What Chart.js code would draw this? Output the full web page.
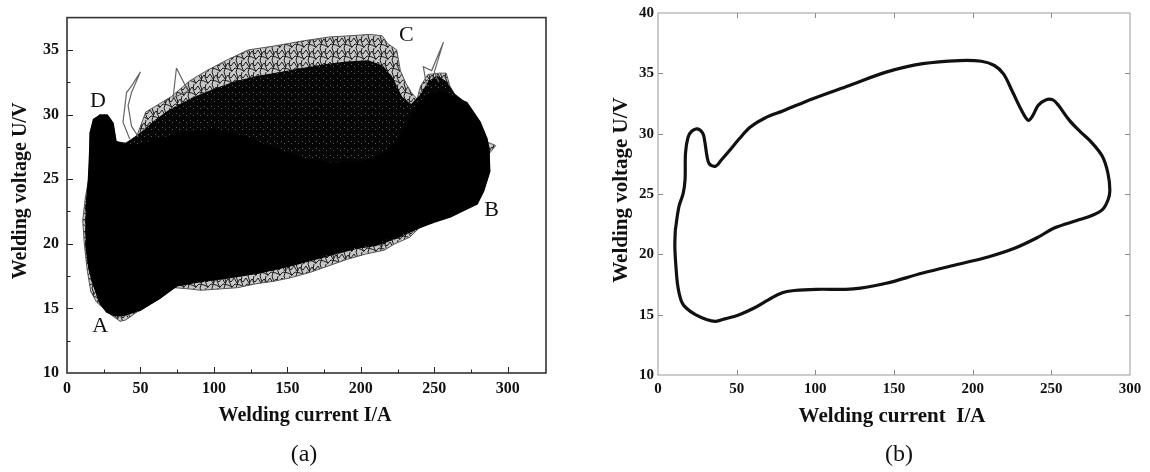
<!DOCTYPE html>
<html>
<head>
<meta charset="utf-8">
<script src="https://cdn.jsdelivr.net/npm/chart.js@4.4.1/dist/chart.umd.min.js"></script>
<style>
  html, body { margin: 0; padding: 0; background: #fff; }
  #wrap { position: relative; width: 1150px; height: 472px; overflow: hidden; }
  canvas { position: absolute; top: 0; }
  #chartA { left: 0; }
  #chartB { left: 575px; }
</style>
</head>
<body>
<div id="wrap">
  <canvas id="chartA" width="575" height="472"></canvas>
  <canvas id="chartB" width="575" height="472"></canvas>
</div>
<script>
// ---- panel (a): envelopes of the U-I cycle cloud, [current A, voltage V] ----
const outerCloud = [[36.2,14.0],[28.7,14.6],[20,15.5],[16.2,16.3],[13.7,18.0],[11.7,20.1],[10.7,21.8],[12.5,23.6],[15,25.1],[16.2,27.1],[15.7,28.6],[18.2,29.6],[22.4,30.0],[27.4,30.0],[31.2,29.4],[33.2,27.9],[39.9,27.8],[47.4,28.3],[53.6,30.2],[61.1,30.7],[71.1,31.4],[83.5,32.6],[93.5,33.3],[108.5,34.2],[123.4,35.0],[140.9,35.3],[160.8,35.7],[178.3,36.0],[193.3,36.1],[205.7,36.2],[214.5,36.1],[218.2,35.5],[224.4,35.0],[226.9,33.4],[230.7,32.4],[234.4,31.7],[238.2,31.2],[240.6,32.2],[245.6,33.1],[253.1,33.2],[258.1,33.2],[260.6,32.2],[265.6,31.2],[273,30.4],[280.5,29.1],[285.5,27.9],[291.8,27.6],[286.8,26.9],[285.5,25.6],[283,24.6],[279.3,23.6],[275.6,23.1],[268.1,22.7],[260.6,22.6],[253.1,22.4],[243.1,21.6],[233.2,20.5],[223.2,20.0],[215.7,19.5],[203.2,19.2],[190.8,18.8],[178.3,18.3],[165.8,17.8],[153.4,17.4],[140.9,17.1],[128.4,16.9],[116,16.6],[103.5,16.5],[91,16.4],[83.5,16.5],[73.6,16.6],[66.1,16.3],[58.6,15.6],[51.1,15.0],[43.6,14.4],[39.9,14.1],[36.2,14.0]];
const meshCloud = [[16,28.6],[18.2,29.6],[22.4,29.9],[27.4,29.9],[31.2,29.3],[33.2,27.9],[40,27.8],[50,28.6],[60,29.6],[70,30.4],[85,31.3],[100,32.0],[115,32.6],[130,33.0],[145,33.3],[160,33.6],[175,33.9],[190,34.1],[205,34.2],[215,33.8],[222,32.8],[228,31.4],[234,30.8],[240,31.5],[246,32.6],[252,33.0],[258,32.6],[264,31.6],[272,30.9],[281,29.4],[285.7,28.1],[287.5,27.1],[288,25.6],[284,24.2],[279,23.1],[270,22.6],[261,22.1],[250,21.7],[238,21.1],[225,20.4],[210,19.8],[197,19.6],[177,19.0],[154,18.3],[131,17.7],[109,17.3],[90,17.0],[75,16.7],[63,15.7],[50,14.8],[38,14.4],[32,14.4],[27,14.7],[22,15.4],[17.7,16.9],[15,18],[13,19.5],[12.5,21.3],[13,23],[14.5,25],[15.5,27],[16,28.6]];
const coreCloud = [[16,28.6],[18.2,29.6],[22.4,29.9],[27.4,29.9],[31.2,29.3],[33.2,27.9],[40,27.6],[50,27.6],[60,28.0],[80,28.6],[100,28.8],[120,28.3],[140,27.4],[160,26.6],[180,26.2],[200,26.3],[215,26.9],[225,27.9],[231,29.3],[238,30.6],[247,31.6],[255,31.7],[262,31.4],[272,30.9],[281,29.4],[285.7,28.1],[287,27.1],[287.5,25.6],[283.4,24.1],[279,23.1],[270,22.6],[261,22.1],[250,21.7],[238,21.2],[225,20.7],[210,20.1],[197,19.8],[177,19.2],[154,18.4],[131,17.8],[109,17.4],[90,17.15],[74.5,16.8],[63,15.8],[49.5,14.9],[38,14.5],[32,14.5],[27,14.75],[22.3,15.5],[17.7,17],[15.3,18],[13.5,19.5],[13.2,21.3],[13.6,23],[14.8,25],[15.6,27],[16,28.6]];
const strayLoopA = [[42.7,28.1],[38.1,29.4],[40.5,31.7],[43.9,32.2],[50,33.3],[43.9,31.7],[41.6,30.7],[43.9,29.1],[48.4,28.3]];
const strayLoopB = [[74.5,33.6],[72.2,31.3],[82.4,31.8],[74.5,33.6]];
const strayLoopC = [[244.8,32.2],[242.5,33.7],[248.2,33.4],[256.2,35.6],[250,33.3],[253,32.5]];
const markNames = ['A', 'B', 'C', 'D'];
const markI = [22.6, 289.0, 231.0, 21.0];
const markU = [13.6, 22.6, 36.1, 31.0];

const ticksA_I = [0, 50, 100, 150, 200, 250, 300];
const minorA_I = [25, 75, 125, 175, 225, 275];
const ticksA_U = [10, 15, 20, 25, 30, 35];
const minorA_U = [12.5, 17.5, 22.5, 27.5, 32.5];

// ---- panel (b): fitted typical U-I loop ----
const loopB = [[11,22.0],[13.3,23.95],[16,25.05],[17.2,26.2],[17.5,28.4],[19.1,29.7],[21.4,30.2],[25,30.4],[28.4,30.05],[29.6,29.45],[31.2,28.1],[32.6,27.5],[36.6,27.3],[40.1,27.8],[44.8,28.5],[51.8,29.6],[58.7,30.55],[68,31.3],[79.7,31.9],[98.4,32.9],[121.7,34.0],[145,35.1],[168.3,35.8],[191.6,36.06],[205.6,36.0],[213.8,35.65],[219.6,34.95],[225.4,33.45],[231.2,31.9],[235.4,31.1],[238.2,31.5],[241.7,32.35],[246.4,32.8],[251,32.8],[254.5,32.35],[261.5,31.1],[268.5,30.15],[275.4,29.3],[282.5,28.1],[286,26.7],[287.2,25.3],[286,24.5],[282.5,23.7],[275.4,23.2],[266.2,22.8],[252.2,22.2],[240.6,21.35],[226.6,20.5],[210.3,19.8],[191.6,19.2],[168.3,18.45],[145,17.6],[128.7,17.2],[119.3,17.1],[100.7,17.1],[86.7,17.0],[78.6,16.8],[70.4,16.25],[61.1,15.55],[51.7,15.0],[42.4,14.65],[36.6,14.45],[30.8,14.6],[23.8,15.0],[17.9,15.55],[14.9,16.1],[12.6,17.35],[11.4,19.0],[10.7,20.65],[11,22.0]];
const ticksB_I = [0, 50, 100, 150, 200, 250, 300];
const ticksB_U = [10, 15, 20, 25, 30, 35, 40];

const serif = '"Liberation Serif", "Times New Roman", serif';
const pts = arr => arr.map(p => ({x: p[0], y: p[1]}));

// small tiles that give the cloud its tangled-wire texture
function tile(size, bg, ink, width, strokes) {
  const c = document.createElement('canvas');
  c.width = size; c.height = size;
  const g = c.getContext('2d');
  if (bg) { g.fillStyle = bg; g.fillRect(0, 0, size, size); }
  g.strokeStyle = ink; g.lineWidth = width;
  strokes.forEach(s => {
    g.beginPath();
    s.forEach((p, i) => i ? g.lineTo(p[0], p[1]) : g.moveTo(p[0], p[1]));
    g.stroke();
  });
  return g.createPattern(c, 'repeat');
}
const sparseWires = tile(12, 'rgba(0,0,0,0.22)', '#1c1c1c', 1,
  [[[0,3],[3,6],[6,2],[9,7],[12,3]], [[0,9],[4,11],[7,8],[12,9]], [[2,0],[1,5],[4,12]], [[8,0],[10,6],[8,12]]]);
const denseWires = tile(7, '#060606', 'rgba(255,255,255,0.35)', 1,
  [[[1,1],[2,2]], [[4,4],[5,3]]]);

// frame, inward ticks, titles and captions
const framePlugin = {
  id: 'frame',
  afterDatasetsDraw(chart, args, o) {
    const ctx = chart.ctx, a = chart.chartArea, sx = chart.scales.x, sy = chart.scales.y;
    const seg = (x1, y1, x2, y2) => { ctx.beginPath(); ctx.moveTo(x1, y1); ctx.lineTo(x2, y2); ctx.stroke(); };
    ctx.save();
    ctx.strokeStyle = o.tickColor;
    ctx.lineWidth = 1;
    const xt = (list, len) => list.forEach(v => {
      const p = Math.round(sx.getPixelForValue(v)) + 0.5;
      seg(p, a.bottom, p, a.bottom - len);
      if (o.mirror) seg(p, a.top, p, a.top + len);
    });
    const yt = (list, len) => list.forEach(v => {
      const p = Math.round(sy.getPixelForValue(v)) + 0.5;
      seg(a.left, p, a.left + len, p);
      if (o.mirror) seg(a.right, p, a.right - len, p);
    });
    xt(o.xMajor, o.majorLen); xt(o.xMinor, o.minorLen);
    yt(o.yMajor, o.majorLen); yt(o.yMinor, o.minorLen);
    ctx.strokeStyle = o.boxColor;
    ctx.lineWidth = o.boxWidth;
    ctx.strokeRect(a.left, a.top, a.right - a.left, a.bottom - a.top);

    ctx.fillStyle = '#111';
    ctx.textAlign = 'center';
    ctx.textBaseline = 'middle';
    ctx.font = 'bold ' + o.titleSize + 'px ' + serif;
    ctx.fillText(o.xTitle, o.xTitlePos[0], o.xTitlePos[1]);
    ctx.save();
    ctx.translate(o.yTitlePos[0], o.yTitlePos[1]);
    ctx.rotate(-Math.PI / 2);
    ctx.fillText(o.yTitle, 0, 0);
    ctx.restore();
    ctx.font = o.captionSize + 'px ' + serif;
    ctx.fillText(o.caption, o.captionPos[0], o.captionPos[1]);
    if (o.marks) {
      ctx.font = '22px ' + serif;
      o.marks.forEach((m, i) => ctx.fillText(m, sx.getPixelForValue(o.markX[i]), sy.getPixelForValue(o.markY[i])));
    }
    ctx.restore();
  }
};

function axis(min, max, list, size, pad, fitSize, horizontal) {
  return {
    type: 'linear', min: min, max: max,
    grid: {display: false, drawTicks: false},
    border: {display: false},
    ticks: {color: '#111', padding: pad, font: {family: serif, weight: 'bold', size: size}},
    afterBuildTicks: s => { s.ticks = list.map(v => ({value: v})); },
    afterFit: s => { if (horizontal) s.height = fitSize; else s.width = fitSize; }
  };
}

const common = {
  responsive: false,
  animation: false,
  events: [],
  elements: {point: {radius: 0}},
  plugins: {legend: {display: false}, tooltip: {enabled: false}}
};

new Chart(document.getElementById('chartA'), {
  type: 'scatter',
  data: {
    datasets: [
      {data: pts(strayLoopA), showLine: true, borderColor: '#666', borderWidth: 1.2, tension: 0},
      {data: pts(strayLoopB), showLine: true, borderColor: '#666', borderWidth: 1.2, tension: 0},
      {data: pts(strayLoopC), showLine: true, borderColor: '#666', borderWidth: 1.2, tension: 0},
      {data: pts(coreCloud), showLine: true, fill: 'shape', backgroundColor: '#000', borderColor: '#000', borderWidth: 2, tension: 0},
      {data: pts(meshCloud), showLine: true, fill: 'shape', backgroundColor: denseWires, borderColor: 'rgba(0,0,0,0)', borderWidth: 0, tension: 0},
      {data: pts(outerCloud), showLine: true, fill: 'shape', backgroundColor: sparseWires, borderColor: '#555', borderWidth: 1, tension: 0}
    ]
  },
  options: Object.assign({}, common, {
    layout: {padding: {top: 9, right: 29, left: 0, bottom: 0}},
    scales: {
      x: axis(0, 326, ticksA_I, 16, 6, 99, true),
      y: axis(10, 37.5, ticksA_U, 16, 8, 67, false)
    },
    plugins: Object.assign({}, common.plugins, {
      frame: {
        tickColor: '#222', boxColor: '#333', boxWidth: 1.6, majorLen: 6, minorLen: 3.5, mirror: false,
        xMajor: ticksA_I.slice(1), xMinor: minorA_I, yMajor: ticksA_U.slice(1), yMinor: minorA_U,
        xTitle: 'Welding current I/A', xTitlePos: [305, 416], titleSize: 20,
        yTitle: 'Welding voltage U/V', yTitlePos: [21, 191],
        caption: '(a)', captionPos: [304, 455], captionSize: 24,
        marks: markNames, markX: markI, markY: markU
      }
    })
  }),
  plugins: [framePlugin]
});

new Chart(document.getElementById('chartB'), {
  type: 'scatter',
  data: {
    datasets: [
      {data: pts(loopB), showLine: true, borderColor: '#111', borderWidth: 3.2, tension: 0.35}
    ]
  },
  options: Object.assign({}, common, {
    layout: {padding: {top: 12, right: 20, left: 0, bottom: 0}},
    scales: {
      x: axis(0, 300, ticksB_I, 15, 5, 97, true),
      y: axis(10, 40, ticksB_U, 15, 4, 83, false)
    },
    plugins: Object.assign({}, common.plugins, {
      frame: {
        tickColor: '#8a8a8a', boxColor: '#9a9a9a', boxWidth: 1, majorLen: 5, minorLen: 0, mirror: true,
        xMajor: ticksB_I.slice(1, -1), xMinor: [], yMajor: ticksB_U.slice(1, -1), yMinor: [],
        xTitle: 'Welding current  I/A', xTitlePos: [317, 417], titleSize: 21,
        yTitle: 'Welding voltage U/V', yTitlePos: [47, 190],
        caption: '(b)', captionPos: [324, 455], captionSize: 24
      }
    })
  }),
  plugins: [framePlugin]
});
</script>
</body>
</html>
